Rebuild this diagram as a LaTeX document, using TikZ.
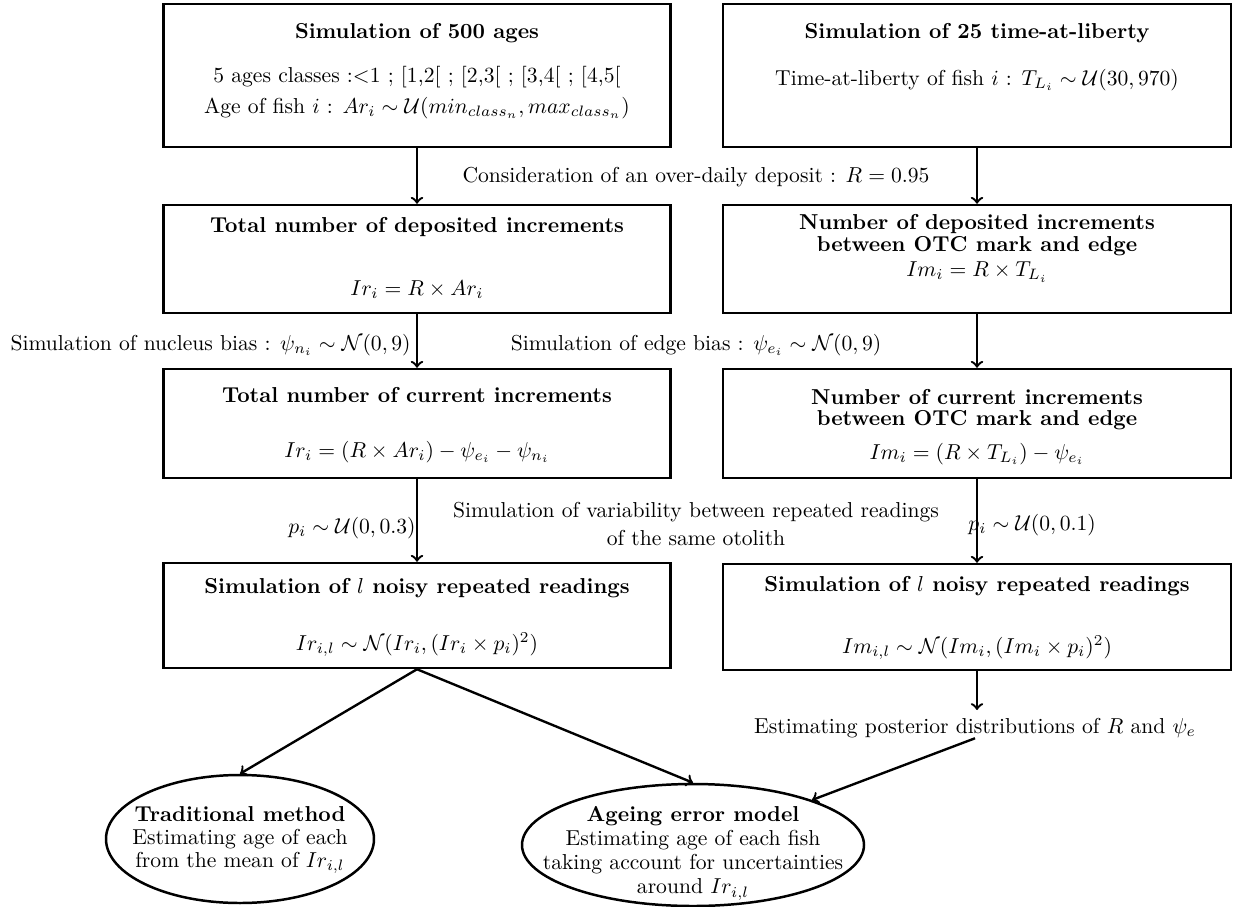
\documentclass[tikz,border=0pt]{standalone}
\usetikzlibrary{shapes.geometric}
\def\pxx{0.46296pt}
\begin{document}
\begin{tikzpicture}[x=0.46296pt,y=-0.46296pt,
  lbox/.style={draw,line width=1.15pt,inner sep=0pt,minimum width=507*\pxx},
  rbox/.style={draw,line width=1.15pt,inner sep=0pt,minimum width=508*\pxx},
  ell/.style={draw,ellipse,line width=1.15pt,inner sep=0pt},
  txt/.style={inner sep=0pt,align=center},
  arr/.style={->,line width=1.1pt}]
\useasboundingbox (0,0) rectangle (1246,907);
% boxes
\node[lbox,minimum height=143*\pxx] (b1) at (417,75.5) {};
\node[rbox,minimum height=143*\pxx] (b2) at (977,75.5) {};
\node[lbox,minimum height=108*\pxx] (b3) at (417,259) {};
\node[rbox,minimum height=108*\pxx] (b4) at (977,259) {};
\node[lbox,minimum height=109*\pxx] (b5) at (417,423.5) {};
\node[rbox,minimum height=109*\pxx] (b6) at (977,423.5) {};
\node[lbox,minimum height=105*\pxx] (b7) at (417,615.5) {};
\node[rbox,minimum height=106*\pxx] (b8) at (977,617) {};
\node[ell,minimum width=268*\pxx,minimum height=128*\pxx] (trad) at (240,839) {};
\node[ell,minimum width=342*\pxx,minimum height=122*\pxx] (age) at (693,845) {};
% box texts
\node[txt] (t1a) at (417,33) {\textbf{Simulation of 500 ages}};
\node[txt] (t1b) at (417,77) {5 ages classes :$<$1 ; [1,2[ ; [2,3[ ; [3,4[ ; [4,5[};
\node[txt] (t1c) at (417,108) {Age of fish $i$ : $Ar_i \sim \mathcal{U}(min_{class_n}, max_{class_n})$};
\node[txt] (t2a) at (977,33) {\textbf{Simulation of 25 time-at-liberty}};
\node[txt] (t2b) at (977,80) {Time-at-liberty of fish $i$ : $T_{L_i} \sim \mathcal{U}(30,970)$};
\node[txt] (t3a) at (417,227) {\textbf{Total number of deposited increments}};
\node[txt] (t3b) at (417,290) {$Ir_i = R \times Ar_i$};
\node[txt] (t4a) at (977,224) {\textbf{Number of deposited increments}};
\node[txt] (t4b) at (977,246) {\textbf{between OTC mark and edge}};
\node[txt] (t4c) at (977,272) {$Im_i = R \times T_{L_i}$};
\node[txt] (t5a) at (417,395) {\textbf{Total number of current increments}};
\node[txt] (t5b) at (417,452) {$Ir_i = (R \times Ar_i) - \psi_{e_i} - \psi_{n_i}$};
\node[txt] (t6a) at (977,397) {\textbf{Number of current increments}};
\node[txt] (t6b) at (977,420) {\textbf{between OTC mark and edge}};
\node[txt] (t6c) at (977,454) {$Im_i = (R \times T_{L_i}) - \psi_{e_i}$};
\node[txt] (t7a) at (417,588) {\textbf{Simulation of $l$ noisy repeated readings}};
\node[txt] (t7b) at (417,645) {$Ir_{i,l} \sim \mathcal{N}(Ir_i, (Ir_i \times p_i)^2)$};
\node[txt] (t8a) at (977,586) {\textbf{Simulation of $l$ noisy repeated readings}};
\node[txt] (t8b) at (977,648) {$Im_{i,l} \sim \mathcal{N}(Im_i, (Im_i \times p_i)^2)$};
% labels
\node[txt] (cons) at (696,177) {Consideration of an over-daily deposit : $R=0.95$};
\node[txt,anchor=east] (nuc) at (411,345) {Simulation of nucleus bias : $\psi_{n_i} \sim \mathcal{N}(0,9)$};
\node[txt] (edge) at (696,345) {Simulation of edge bias : $\psi_{e_i} \sim \mathcal{N}(0,9)$};
\node[txt,anchor=east] (p3) at (416,528) {$p_i \sim \mathcal{U}(0,0.3)$};
\node[txt] (var1) at (696,512) {Simulation of variability between repeated readings};
\node[txt] (var2) at (696,538) {of the same otolith};
\node[txt,anchor=west] (p1) at (968,525) {$p_i \sim \mathcal{U}(0,0.1)$};
\node[txt] (est) at (975,728) {Estimating posterior distributions of $R$ and $\psi_e$};
% ellipse texts
\node[txt,font=\fontsize{10}{10.65}\selectfont] (tradt) at (240,840) {\textbf{Traditional method}\\Estimating age of each\\from the mean of $Ir_{i,l}$};
\node[txt,font=\fontsize{10}{11.25}\selectfont] (aget) at (693,853) {\textbf{Ageing error model}\\Estimating age of each fish\\taking account for uncertainties\\around $Ir_{i,l}$};
% connectors
\coordinate (c1) at (977,710);
\draw[arr] (b1.south) -- (b3.north);
\draw[arr] (b2.south) -- (b4.north);
\draw[arr] (b3.south) -- (b5.north);
\draw[arr] (b4.south) -- (b6.north);
\draw[arr] (b5.south) -- (b7.north);
\draw[arr] (b6.south) -- (b8.north);
\draw[arr] (b7.south) -- (trad.north);
\draw[arr] (b7.south) -- (age.north);
\draw[arr] (b8.south) -- (c1);
\draw[arr] (est.south) -- (age);
\end{tikzpicture}
\end{document}
